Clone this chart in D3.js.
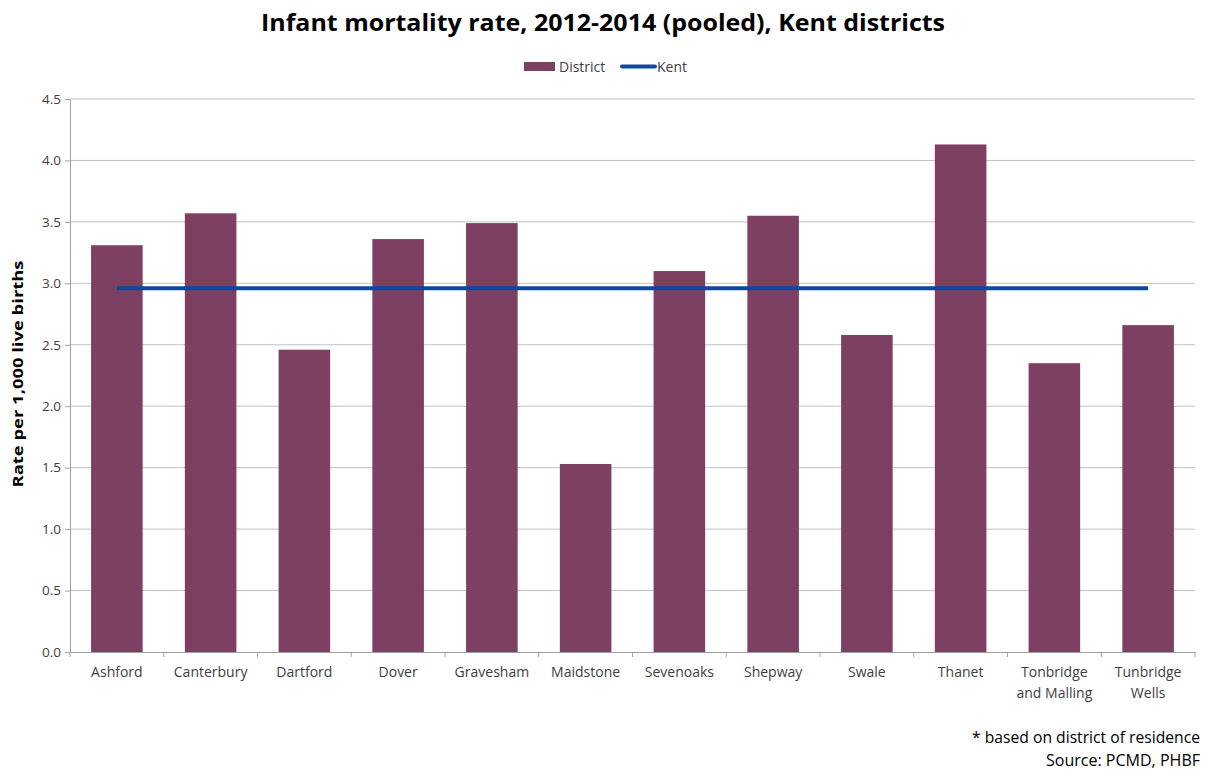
<!DOCTYPE html>
<html><head><meta charset="utf-8">
<script src="https://cdn.jsdelivr.net/npm/d3@7"></script>
<style>body{margin:0;background:#fff}svg{display:block}</style>
</head><body>
<svg id="c" width="1206" height="772"></svg>
<script>
const categories = ["Ashford","Canterbury","Dartford","Dover","Gravesham","Maidstone","Sevenoaks","Shepway","Swale","Thanet","Tonbridge and Malling","Tunbridge Wells"];
const labelLines = [["Ashford"],["Canterbury"],["Dartford"],["Dover"],["Gravesham"],["Maidstone"],["Sevenoaks"],["Shepway"],["Swale"],["Thanet"],["Tonbridge","and Malling"],["Tunbridge","Wells"]];
const districtValues = [3.31,3.57,2.46,3.36,3.49,1.53,3.10,3.55,2.58,4.13,2.35,2.66];
const kentValues = categories.map(()=>2.96);
const yTicks = [0,0.5,1,1.5,2,2.5,3,3.5,4,4.5];

const FONT = "Open Sans, sans-serif";
const svg = d3.select("#c");
const m = {l:70, r:1195, t:99, b:652};
const x = d3.scaleBand().domain(categories).range([m.l, m.r]).paddingInner(0.45).paddingOuter(0.225);
const xb = d3.scaleBand().domain(categories).range([m.l, m.r]);
const y = d3.scaleLinear().domain([0,4.5]).range([m.b, m.t]);

// gridlines
svg.append("g").selectAll("line").data(yTicks.filter(d=>d>0)).join("line")
  .attr("x1", m.l).attr("x2", m.r).attr("y1", d=>y(d)).attr("y2", d=>y(d))
  .attr("stroke","#c0c0c0").attr("stroke-width",1);

// y axis
const ya = svg.append("g").attr("transform",`translate(${m.l},0)`)
  .call(d3.axisLeft(y).tickValues(yTicks).tickFormat(d3.format(".1f")).tickSize(5).tickSizeOuter(0));
ya.select(".domain").attr("stroke","#a0a0a0");
ya.selectAll(".tick line").attr("stroke","#a0a0a0");
ya.selectAll("text").attr("font-family",FONT).attr("font-size",13.5).attr("fill","#404040").attr("x",-9);

// bars
svg.append("g").selectAll("rect").data(districtValues).join("rect")
  .attr("x",(d,i)=>x(categories[i])).attr("width",x.bandwidth())
  .attr("y",d=>y(d)).attr("height",d=>y(0)-y(d)).attr("fill","#7d3f62");

// x axis
const xa = svg.append("g").attr("transform",`translate(0,${m.b})`)
  .call(d3.axisBottom(xb).tickSize(0).tickFormat(""));
xa.select(".domain").attr("stroke","#a0a0a0");
const bounds = categories.map(c=>xb(c)).concat([m.r]);
svg.append("g").selectAll("line").data(bounds).join("line")
  .attr("x1",d=>d).attr("x2",d=>d).attr("y1",m.b).attr("y2",m.b+5).attr("stroke","#a0a0a0");
const lbl = svg.append("g").selectAll("text").data(labelLines).join("text")
  .attr("x",(d,i)=>xb(categories[i])+xb.bandwidth()/2).attr("y",m.b+25)
  .attr("text-anchor","middle").attr("font-family",FONT).attr("font-size",14).attr("fill","#404040");
lbl.each(function(lines){
  const t=d3.select(this);
  lines.forEach((s,k)=>t.append("tspan").attr("x",t.attr("x")).attr("dy",k?21:0).text(s));
});

// Kent line
const line = d3.line().x((d,i)=>x(categories[i])+x.bandwidth()/2).y(d=>y(d));
svg.append("path").datum(kentValues).attr("d",line).attr("fill","none")
  .attr("stroke","#0c47a1").attr("stroke-width",4);

// title
svg.append("text").attr("x",603).attr("y",31).attr("text-anchor","middle")
  .attr("font-family",FONT).attr("font-weight","bold").attr("font-size",24).attr("fill","#000")
  .attr("textLength",684).attr("lengthAdjust","spacingAndGlyphs")
  .text("Infant mortality rate, 2012-2014 (pooled), Kent districts");

// legend
svg.append("rect").attr("x",524).attr("y",62).attr("width",31).attr("height",9).attr("fill","#7d3f62");
svg.append("text").attr("x",559).attr("y",72).attr("font-family",FONT).attr("font-size",14).attr("fill","#404040").text("District");
svg.append("line").attr("x1",622).attr("x2",655).attr("y1",66.5).attr("y2",66.5).attr("stroke","#0c47a1").attr("stroke-width",4).attr("stroke-linecap","round");
svg.append("text").attr("x",657).attr("y",72).attr("font-family",FONT).attr("font-size",14).attr("fill","#404040").text("Kent");

// y label
svg.append("text").attr("transform","translate(23,374) rotate(-90)").attr("text-anchor","middle")
  .attr("font-family",FONT).attr("font-weight","bold").attr("font-size",15).attr("fill","#000")
  .attr("textLength",227).attr("lengthAdjust","spacingAndGlyphs")
  .text("Rate per 1,000 live births");

// footnotes
svg.append("text").attr("x",1200).attr("y",743).attr("text-anchor","end").attr("font-family",FONT).attr("font-size",15.5).attr("fill","#000")
  .attr("textLength",228).attr("lengthAdjust","spacingAndGlyphs").text("* based on district of residence");
svg.append("text").attr("x",1200).attr("y",766).attr("text-anchor","end").attr("font-family",FONT).attr("font-size",15.5).attr("fill","#000")
  .attr("textLength",154).attr("lengthAdjust","spacingAndGlyphs").text("Source: PCMD, PHBF");
</script>
</body></html>
